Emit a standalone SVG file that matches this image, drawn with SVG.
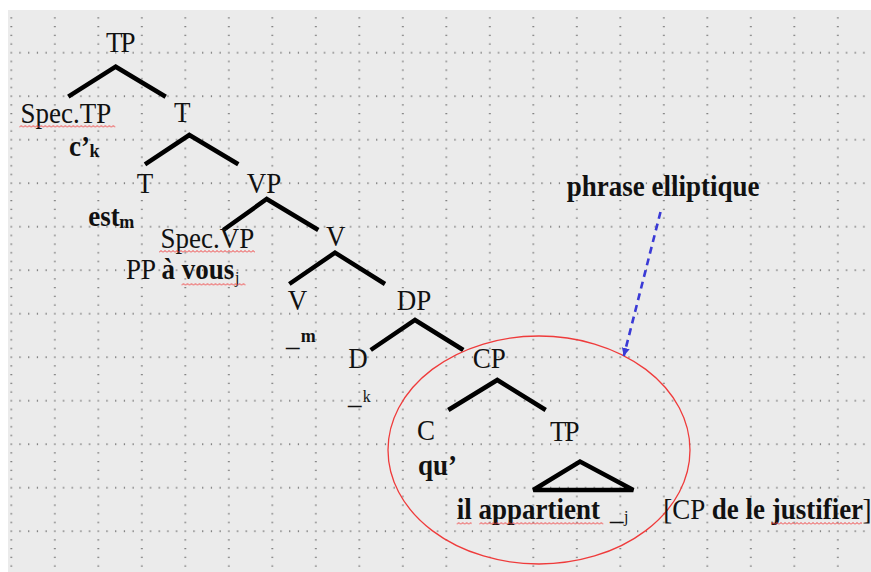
<svg xmlns="http://www.w3.org/2000/svg" width="871" height="572" viewBox="0 0 871 572">
  <defs>
    <style>
      .lbl { font-family: "Liberation Serif", "Times New Roman", serif; font-size: 27px; fill: #111;
             transform-box: fill-box; transform-origin: 50% 100%; transform: scaleY(1.08); }
      .b { font-weight: bold; }
      .tp { letter-spacing: -2px; }
      .sm { font-size: 18px; }
      .xs { font-size: 16px; }
      .branch { fill: none; stroke: #000; stroke-width: 4.5; stroke-linejoin: miter; stroke-linecap: butt; }
      .spell { fill: url(#squig); }
    </style>
    <!-- dotted page grid: major lines every 43.5px, dots every 8.7px -->
    <pattern id="grid" patternUnits="userSpaceOnUse" x="10.3" y="8.2" width="43.5" height="43.5">
      <g fill="#4a4a4a">
        <rect x="0.4" y="0.4" width="1.25" height="1.25"/>
        <rect x="9.1" y="0.4" width="1.25" height="1.25"/>
        <rect x="17.8" y="0.4" width="1.25" height="1.25"/>
        <rect x="26.5" y="0.4" width="1.25" height="1.25"/>
        <rect x="35.2" y="0.4" width="1.25" height="1.25"/>
        <rect x="0.4" y="9.1" width="1.25" height="1.25"/>
        <rect x="0.4" y="17.8" width="1.25" height="1.25"/>
        <rect x="0.4" y="26.5" width="1.25" height="1.25"/>
        <rect x="0.4" y="35.2" width="1.25" height="1.25"/>
      </g>
    </pattern>
    <!-- wavy spell-check underline -->
    <pattern id="squig" patternUnits="userSpaceOnUse" x="0" y="0" width="4" height="3">
      <path d="M0 2.5 L2 0.5 L4 2.5" fill="none" stroke="#f03c3c" stroke-width="1"/>
    </pattern>
    <marker id="arrow" markerUnits="userSpaceOnUse" markerWidth="9" markerHeight="9" refX="8" refY="4" orient="auto">
      <path d="M0 0 L8 4 L0 8 Z" fill="#3a3ad6"/>
    </marker>
  </defs>

  <!-- page -->
  <rect x="0" y="0" width="871" height="572" fill="#ffffff"/>
  <rect x="8" y="10" width="863" height="562" fill="#ebebeb"/>
  <rect x="8" y="12" width="863" height="560" fill="url(#grid)"/>

  <!-- tree branches and annotations -->
  <g id="connectors">
    <polyline class="branch" points="68.3,96.7 115.7,66.7 165.7,96.7"/>
    <polyline class="branch" points="145,164.3 189.3,135 238.3,164.3"/>
    <polyline class="branch" points="223.3,230 266.7,199 318.3,230"/>
    <polyline class="branch" points="289.3,284 335,252.7 385,284"/>
    <polyline class="branch" points="370.7,350 415,320 463.3,350"/>
    <polyline class="branch" points="448.3,410 497.3,380 545.7,410"/>
    <polygon class="branch" stroke-miterlimit="2" points="533.3,490 580,461.5 633.3,490"/>
    <ellipse cx="539" cy="450" rx="151" ry="114" fill="none" stroke="#ef3b3b" stroke-width="1.3"/>
    <line x1="660.5" y1="212" x2="623.8" y2="356" stroke="#3a3ad6" stroke-width="2.6" stroke-dasharray="7 5" marker-end="url(#arrow)"/>
  </g>

  <g id="node-tp">
    <text class="lbl tp" x="106" y="52">TP</text>
  </g>
  <g id="node-spec-tp">
    <text class="lbl" x="20.5" y="123">Spec.TP</text>
    <rect class="spell" x="0" y="0" width="96" height="3" transform="translate(19.3,125)"/>
    <text class="lbl b" x="69" y="156">c’<tspan class="sm" x="89.5" y="157.5">k</tspan></text>
  </g>
  <g id="node-tbar">
    <text class="lbl" x="174" y="122.5">T</text>
  </g>
  <g id="node-t">
    <text class="lbl" x="136.7" y="193">T</text>
    <text class="lbl b" x="88.3" y="226.7">est<tspan class="sm" x="119.3" y="228">m</tspan></text>
  </g>
  <g id="node-vp">
    <text class="lbl" x="246.7" y="193">VP</text>
  </g>
  <g id="node-spec-vp">
    <text class="lbl" x="160.5" y="248">Spec.VP</text>
    <rect class="spell" x="0" y="0" width="96" height="3" transform="translate(159,250)"/>
    <text class="lbl" x="126" y="280">PP<tspan class="b" x="161.5">à vous</tspan><tspan class="xs" x="235" y="283">j</tspan></text>
    <rect class="spell" x="0" y="0" width="64" height="3" transform="translate(181.5,283)"/>
  </g>
  <g id="node-vbar">
    <text class="lbl" x="326" y="246.7">V</text>
  </g>
  <g id="node-v">
    <text class="lbl" x="287.7" y="310">V</text>
    <text class="lbl" x="286" y="346">_<tspan class="sm b" x="300.7" y="343">m</tspan></text>
  </g>
  <g id="node-dp">
    <text class="lbl" x="396.7" y="310">DP</text>
  </g>
  <g id="node-d">
    <text class="lbl" x="348.3" y="368">D</text>
    <text class="lbl" x="348" y="404.5">_<tspan class="xs" x="362.7" y="403">k</tspan></text>
  </g>
  <g id="node-cp">
    <text class="lbl" x="472.7" y="368">CP</text>
  </g>
  <g id="node-c">
    <text class="lbl" x="417" y="440">C</text>
    <text class="lbl b" x="418" y="475">qu’</text>
  </g>
  <g id="node-tp-low">
    <text class="lbl tp" x="550" y="441.5">TP</text>
    <text class="lbl b" x="456.7" y="519">il appartient</text>
    <rect class="spell" x="0" y="0" width="15" height="3" transform="translate(456.7,522)"/>
    <rect class="spell" x="0" y="0" width="124" height="3" transform="translate(479.3,522)"/>
    <text class="lbl" x="610" y="520.5">_<tspan class="xs" x="624" y="522">j</tspan></text>
  </g>
  <g id="node-cp-infinitive">
    <text class="lbl" x="663.3" y="519">[CP<tspan class="b" x="711.7">de le justifier</tspan><tspan x="862.5">]</tspan></text>
    <rect class="spell" x="0" y="0" width="91" height="3" transform="translate(771,522)"/>
  </g>
  <g id="label-ellipsis">
    <text class="lbl b" x="566.7" y="196">phrase elliptique</text>
  </g>
</svg>
